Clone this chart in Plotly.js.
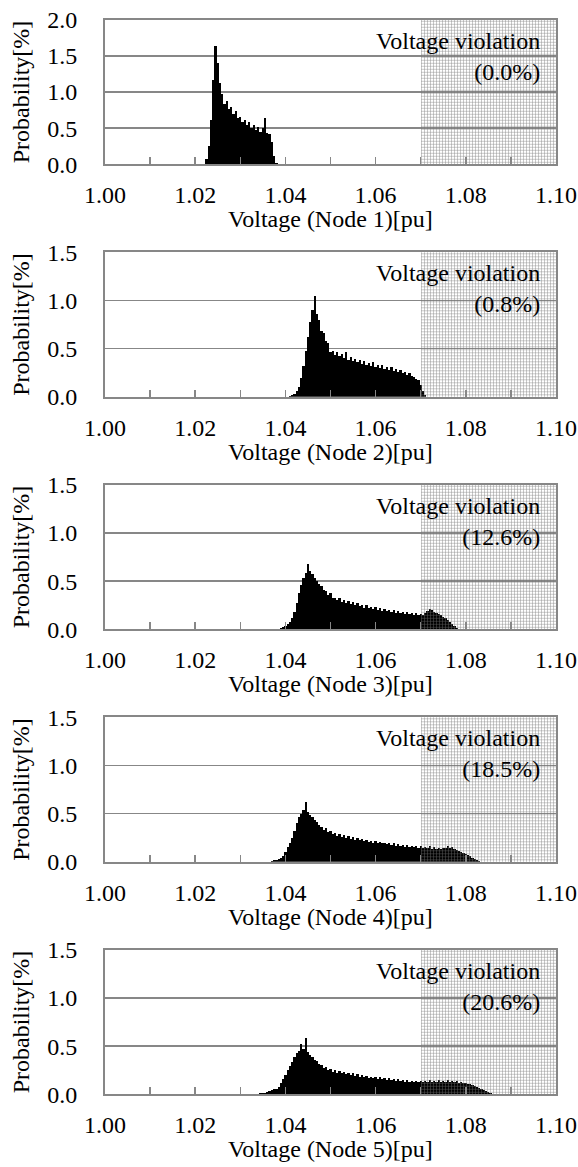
<!DOCTYPE html>
<html>
<head>
<meta charset="utf-8">
<script src="https://cdn.plot.ly/plotly-3.0.1.min.js"></script>
<style>
  html, body { margin: 0; padding: 0; background: #ffffff; }
  #chart { width: 578px; height: 1167px; }
</style>
</head>
<body>
<div id="chart"></div>
<script>
// ---------------- data ----------------
const binWidth = 0.0005;                       // pu, width of each histogram bar
const startVoltage = [1.0220, 1.0405, 1.0385, 1.0370, 1.0345]; // centre of first bar per node
const nodeNames = ["Node 1", "Node 2", "Node 3", "Node 4", "Node 5"];
const violationText = ["0.0%", "0.8%", "12.6%", "18.5%", "20.6%"];
const yMax = [2.0, 1.5, 1.5, 1.5, 1.5];
const violationFrom = 1.07;
const violationTo = 1.10;

const probNode1 = [0, 0.07, 0.25, 0.62, 1.16, 1.64, 1.40, 1.12, 0.98, 0.84, 0.88, 0.76, 0.80, 0.70,
  0.74, 0.64, 0.66, 0.58, 0.62, 0.55, 0.58, 0.50, 0.55, 0.47, 0.52, 0.45, 0.50, 0.64, 0.44, 0.42,
  0.31, 0.12, 0.02];

const probNode2 = [0, 0.01, 0.02, 0.03, 0.06, 0.10, 0.20, 0.32, 0.48, 0.62, 0.78, 0.90, 1.05, 0.86,
  0.80, 0.68, 0.66, 0.58, 0.56, 0.47, 0.48, 0.43, 0.46, 0.42, 0.44, 0.40, 0.47, 0.38, 0.41, 0.37,
  0.39, 0.36, 0.38, 0.34, 0.37, 0.33, 0.35, 0.32, 0.36, 0.31, 0.33, 0.30, 0.33, 0.29, 0.31, 0.28,
  0.31, 0.27, 0.29, 0.26, 0.28, 0.25, 0.26, 0.23, 0.25, 0.22, 0.21, 0.19, 0.17, 0.12, 0.06, 0.02, 0];

const probNode3 = [0, 0.01, 0.02, 0.03, 0.05, 0.08, 0.12, 0.18, 0.27, 0.38, 0.46, 0.53, 0.58, 0.68,
  0.60, 0.57, 0.53, 0.50, 0.47, 0.45, 0.41, 0.40, 0.36, 0.38, 0.32, 0.33, 0.30, 0.32, 0.28, 0.30,
  0.27, 0.29, 0.26, 0.28, 0.25, 0.27, 0.24, 0.25, 0.22, 0.25, 0.22, 0.23, 0.21, 0.23, 0.20, 0.22,
  0.19, 0.21, 0.19, 0.20, 0.18, 0.20, 0.17, 0.19, 0.17, 0.18, 0.16, 0.18, 0.16, 0.17, 0.15, 0.17,
  0.15, 0.16, 0.15, 0.17, 0.19, 0.21, 0.20, 0.18, 0.17, 0.16, 0.15, 0.13, 0.12, 0.10, 0.08, 0.05,
  0.03, 0.01, 0];

const probNode4 = [0.01, 0.02, 0.02, 0.03, 0.04, 0.06, 0.10, 0.15, 0.20, 0.25, 0.32, 0.40, 0.46,
  0.50, 0.54, 0.62, 0.52, 0.49, 0.46, 0.43, 0.41, 0.38, 0.36, 0.33, 0.35, 0.31, 0.32, 0.29, 0.30,
  0.27, 0.29, 0.26, 0.28, 0.25, 0.27, 0.24, 0.26, 0.23, 0.25, 0.23, 0.24, 0.22, 0.23, 0.21, 0.22,
  0.20, 0.22, 0.19, 0.21, 0.19, 0.20, 0.18, 0.19, 0.17, 0.19, 0.16, 0.18, 0.16, 0.17, 0.15, 0.17,
  0.15, 0.16, 0.15, 0.16, 0.14, 0.16, 0.14, 0.15, 0.14, 0.16, 0.13, 0.15, 0.13, 0.14, 0.13, 0.14,
  0.14, 0.16, 0.14, 0.15, 0.13, 0.12, 0.11, 0.10, 0.09, 0.08, 0.07, 0.06, 0.04, 0.03, 0.02, 0.01, 0];

const probNode5 = [0.01, 0.01, 0.01, 0.02, 0.03, 0.04, 0.05, 0.06, 0.08, 0.12, 0.16, 0.20, 0.25,
  0.29, 0.34, 0.39, 0.43, 0.45, 0.52, 0.47, 0.58, 0.44, 0.41, 0.39, 0.36, 0.35, 0.31, 0.30, 0.27,
  0.28, 0.25, 0.26, 0.23, 0.25, 0.22, 0.24, 0.22, 0.23, 0.21, 0.22, 0.20, 0.22, 0.19, 0.21, 0.18,
  0.20, 0.18, 0.19, 0.17, 0.18, 0.17, 0.18, 0.16, 0.18, 0.16, 0.17, 0.15, 0.17, 0.15, 0.16, 0.14,
  0.16, 0.14, 0.15, 0.13, 0.15, 0.13, 0.14, 0.13, 0.14, 0.13, 0.14, 0.13, 0.14, 0.13, 0.15, 0.13,
  0.14, 0.13, 0.15, 0.13, 0.14, 0.13, 0.15, 0.13, 0.14, 0.13, 0.14, 0.12, 0.13, 0.12, 0.12, 0.11,
  0.11, 0.10, 0.09, 0.08, 0.07, 0.05, 0.04, 0.03, 0.02, 0.01, 0];

const probAll = [probNode1, probNode2, probNode3, probNode4, probNode5];

// ---------------- layout geometry (pixels) ----------------
const W = 578, H = 1167;
const plotLeft = 105, plotRight = 556;
const firstBottom = 164.3, panelStep = 232.5, panelHeight = 144.5;
const FONT = "Liberation Serif, Times New Roman, serif";
const GRAY = "#878787";

const traces = [];
const layout = {
  width: W, height: H,
  margin: { l: 0, r: 0, t: 0, b: 0, pad: 0 },
  paper_bgcolor: "#ffffff",
  plot_bgcolor: "#ffffff",
  barmode: "overlay",
  bargap: 0,
  showlegend: false,
  hovermode: false,
  font: { family: FONT, size: 24, color: "#000000" },
  annotations: []
};

for (let i = 0; i < 5; i++) {
  const sfx = i === 0 ? "" : String(i + 1);
  const xa = "x" + sfx, ya = "y" + sfx;
  const bottomPx = firstBottom + panelStep * i;
  const topPx = bottomPx - panelHeight;
  const vals = probAll[i];
  const xs = vals.map((_, k) => +(startVoltage[i] + k * binWidth).toFixed(5));

  traces.push({
    type: "bar", x: xs, y: vals, width: binWidth,
    xaxis: xa, yaxis: ya,
    marker: { color: "#000000", line: { width: 0 } },
    hoverinfo: "skip"
  });
  // voltage-violation region (hatched grey band)
  traces.push({
    type: "bar",
    x: [(violationFrom + violationTo) / 2], y: [yMax[i]], width: [violationTo - violationFrom],
    xaxis: xa, yaxis: ya,
    marker: {
      color: "rgba(150,150,150,0.6)",
      line: { width: 0 },
      pattern: { shape: "+", fgcolor: "rgba(115,115,115,0.8)", size: 3, solidity: 0.3 }
    },
    hoverinfo: "skip"
  });

  layout["xaxis" + sfx] = {
    domain: [plotLeft / W, plotRight / W],
    anchor: ya,
    range: [1.0, 1.1],
    tick0: 1.0, dtick: 0.02, tickformat: ".2f",
    ticks: "inside", ticklen: 7, tickwidth: 1.5, tickcolor: GRAY,
    minor: { tick0: 1.0, dtick: 0.01, ticks: "inside", ticklen: 7, tickwidth: 1.5, tickcolor: GRAY, showgrid: false },
    showline: true, mirror: true, linecolor: GRAY, linewidth: 2,
    showgrid: false, zeroline: false,
    ticklabelstandoff: 8,
    tickfont: { family: FONT, size: 24, color: "#000000" },
    automargin: false, fixedrange: true
  };
  layout["yaxis" + sfx] = {
    domain: [1 - bottomPx / H, 1 - topPx / H],
    anchor: xa,
    range: [0, yMax[i]],
    tick0: 0, dtick: 0.5, tickformat: ".1f",
    ticks: "",
    showgrid: true, gridcolor: GRAY, gridwidth: 1.5,
    showline: true, mirror: true, linecolor: GRAY, linewidth: 2,
    zeroline: false,
    ticklabelstandoff: 21,
    tickfont: { family: FONT, size: 24, color: "#000000" },
    title: { text: "Probability[%]", standoff: 11,
             font: { family: FONT, size: 24, color: "#000000" } },
    automargin: false, fixedrange: true
  };

  // x-axis title (placed as text under the tick labels)
  layout.annotations.push({
    xref: "paper", yref: ya + " domain",
    x: (plotLeft + plotRight) / 2 / W, y: 0, xanchor: "center", yanchor: "middle",
    yshift: -55, showarrow: false,
    text: "Voltage (" + nodeNames[i] + ")[pu]",
    font: { family: FONT, size: 24, color: "#000000" }
  });

  layout.annotations.push({
    xref: "paper", yref: ya + " domain",
    x: 542 / W, y: 1, xanchor: "right", yanchor: "top", align: "right",
    yshift: -6, showarrow: false,
    text: "Voltage violation<br>(" + violationText[i] + ")",
    font: { family: FONT, size: 24, color: "#000000" }
  });
}

Plotly.newPlot("chart", traces, layout, { staticPlot: true, displayModeBar: false });
</script>
</body>
</html>
